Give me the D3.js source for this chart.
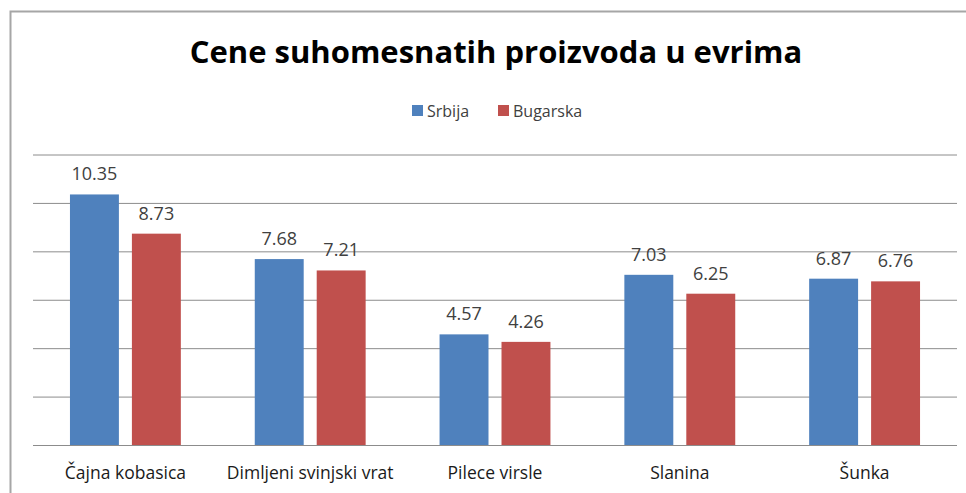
<!DOCTYPE html>
<html>
<head>
<meta charset="utf-8">
<script src="https://cdn.jsdelivr.net/npm/d3@7"></script>
<style>
  body { margin: 0; background: #fff; }
  svg { display: block; font-family: "Open Sans", "Liberation Sans", sans-serif; }
</style>
</head>
<body>
<div id="chart"></div>
<script>
// chart data
var categories = ["Čajna kobasica", "Dimljeni svinjski vrat", "Pilece virsle", "Slanina", "Šunka"];
var seriesNames = ["Srbija", "Bugarska"];
var srbija = [10.35, 7.68, 4.57, 7.03, 6.87];
var bugarska = [8.73, 7.21, 4.26, 6.25, 6.76];
var yTicks = [0, 2, 4, 6, 8, 10, 12];

var colors = { "Srbija": "#4F81BD", "Bugarska": "#C0504D" };

var svgWidth = 966;
var svgHeight = 493;

var margin = { top: 154.5, right: 9, bottom: 48, left: 33 };
var width = svgWidth - margin.left - margin.right;
var height = svgHeight - margin.top - margin.bottom;

var svg = d3.select("#chart")
  .append("svg")
  .attr("width", svgWidth)
  .attr("height", svgHeight);

// outer frame
svg.append("path")
  .attr("d", "M10.5,493 V11.5 H966")
  .attr("fill", "none")
  .attr("stroke", "#a6a6a6")
  .attr("stroke-width", 2);

// title
svg.append("text")
  .attr("x", 496)
  .attr("y", 63)
  .attr("text-anchor", "middle")
  .attr("font-size", "31px")
  .attr("font-weight", "bold")
  .attr("fill", "#000")
  .text("Cene suhomesnatih proizvoda u evrima");

// legend
var legend = svg.append("g").attr("class", "legend");
var legendX = [412, 498];
seriesNames.forEach(function(name, i) {
  legend.append("rect")
    .attr("x", legendX[i])
    .attr("y", 105)
    .attr("width", 11)
    .attr("height", 11)
    .attr("fill", colors[name]);
  legend.append("text")
    .attr("x", legendX[i] + 15)
    .attr("y", 117)
    .attr("font-size", "16px")
    .attr("fill", "#404040")
    .text(name);
});

var chartGroup = svg.append("g")
  .attr("transform", `translate(${margin.left}, ${margin.top})`);

// scales
var x0 = d3.scaleBand()
  .domain(categories)
  .range([0, width])
  .padding(0);

var x1 = d3.scaleBand()
  .domain(seriesNames)
  .range([x0.bandwidth() * 0.2, x0.bandwidth() * 0.8])
  .paddingInner(0.21);

var y = d3.scaleLinear()
  .domain([0, 12])
  .range([height, 0]);

// gridlines
chartGroup.append("g")
  .attr("class", "grid")
  .call(d3.axisLeft(y).tickValues(yTicks).tickSize(-width).tickFormat(""))
  .call(g => g.select(".domain").remove())
  .call(g => g.selectAll("line").attr("stroke", "#8c8c8c").attr("stroke-width", 1));

// category axis
chartGroup.append("g")
  .attr("transform", `translate(0, ${height})`)
  .call(d3.axisBottom(x0).tickSize(0).tickPadding(22))
  .call(g => g.select(".domain").remove())
  .call(g => g.selectAll("text")
    .attr("font-size", "17.5px")
    .attr("font-family", "\"Open Sans\", \"Liberation Sans\", sans-serif")
    .attr("fill", "#1a1a1a"));

var rows = categories.map(function(c, i) {
  return { category: c, values: [
    { series: "Srbija", value: srbija[i] },
    { series: "Bugarska", value: bugarska[i] }
  ] };
});

var groups = chartGroup.selectAll(".cat")
  .data(rows)
  .enter()
  .append("g")
  .attr("class", "cat")
  .attr("transform", d => `translate(${x0(d.category)}, 0)`);

groups.selectAll("rect")
  .data(d => d.values)
  .enter()
  .append("rect")
  .attr("x", d => x1(d.series))
  .attr("y", d => y(d.value))
  .attr("width", x1.bandwidth())
  .attr("height", d => height - y(d.value))
  .attr("fill", d => colors[d.series]);

groups.selectAll("text.val")
  .data(d => d.values)
  .enter()
  .append("text")
  .attr("class", "val")
  .attr("x", d => x1(d.series) + x1.bandwidth() / 2)
  .attr("y", d => y(d.value) - 14)
  .attr("text-anchor", "middle")
  .attr("font-size", "18px")
  .attr("fill", "#404040")
  .text(d => d3.format(".2f")(d.value));
</script>
</body>
</html>
